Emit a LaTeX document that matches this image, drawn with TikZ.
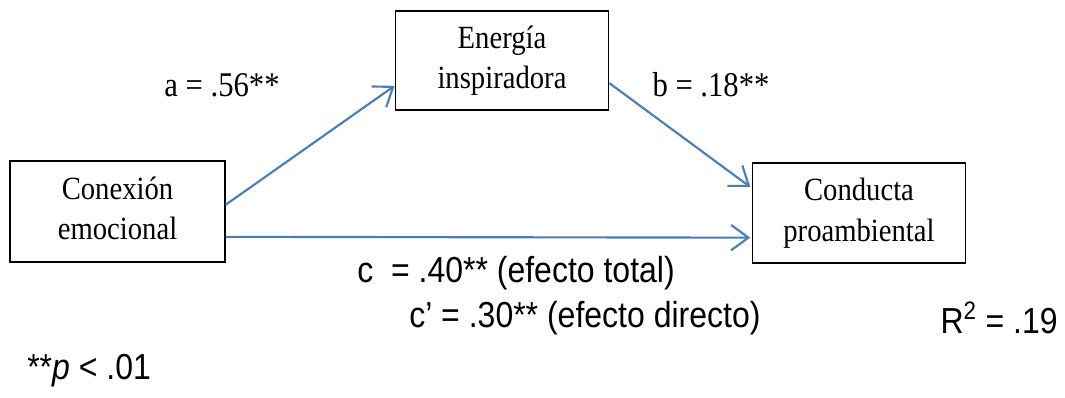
\documentclass[tikz,border=0pt]{standalone}
\usepackage{fontspec}
\usepackage{graphicx}
\setmainfont{Liberation Serif}
\newfontfamily\arial{Liberation Sans}
\usetikzlibrary{arrows.meta}
\definecolor{arrblue}{RGB}{74,126,187}
\newcommand{\vst}[1]{\scalebox{1}[1.13]{#1}}
\newcommand{\twol}[2]{\vst{\begin{tabular}{@{}c@{}}#1\\#2\end{tabular}}}
\begin{document}
\begin{tikzpicture}[x=0.75pt,y=-0.75pt,
  varbox/.style={draw=black,line width=1.1pt,minimum width=160pt,minimum height=75pt,align=center,inner sep=0pt,font=\fontsize{21.5}{27}\selectfont},
  conn/.style={draw=arrblue,line width=1.6pt,-{Straight Barb[length=13pt,width=19pt,line width=1.6pt]}},
  serlab/.style={font=\fontsize{23}{27}\selectfont,inner sep=0pt},
  sanlab/.style={font=\arial\fontsize{24}{28}\selectfont,inner sep=0pt}]
\useasboundingbox (0,0) rectangle (1065,398);
\node[varbox,minimum width=161pt,minimum height=75.5pt] (conexion) at (117.5,211.5) {\twol{Conexión}{emocional}};
\node[varbox,minimum height=74.5pt] (energia) at (502,60.5) {\twol{Energía}{inspiradora}};
\node[varbox] (conducta) at (859,213) {\twol{Conducta}{proambiental}};
\draw[conn] ([yshift=5pt]conexion.east) -- ([yshift=-19pt]energia.west);
\draw[conn] ([yshift=-17pt]energia.east) -- ([yshift=19.5pt,xshift=-1pt]conducta.west);
\draw[conn] ([yshift=-19pt]conexion.east) -- ([yshift=-18.5pt,xshift=-1pt]conducta.west);
\node[serlab] (la) at (222,85) {\vst{a = .56**}};
\node[serlab] (lb) at (711,85) {\vst{b = .18**}};
\node[sanlab,anchor=west] (lc) at (357,273) {\vst{c\ \ = .40** (efecto total)}};
\node[sanlab,anchor=west] (lcp) at (409,318) {\vst{c’ = .30** (efecto directo)}};
\node[sanlab,anchor=east] (lr) at (1058,318) {\vst{R\textsuperscript{2} = .19}};
\node[sanlab,anchor=west] (lp) at (27,371) {\vst{**\textit{p} < .01}};
\end{tikzpicture}
\end{document}
